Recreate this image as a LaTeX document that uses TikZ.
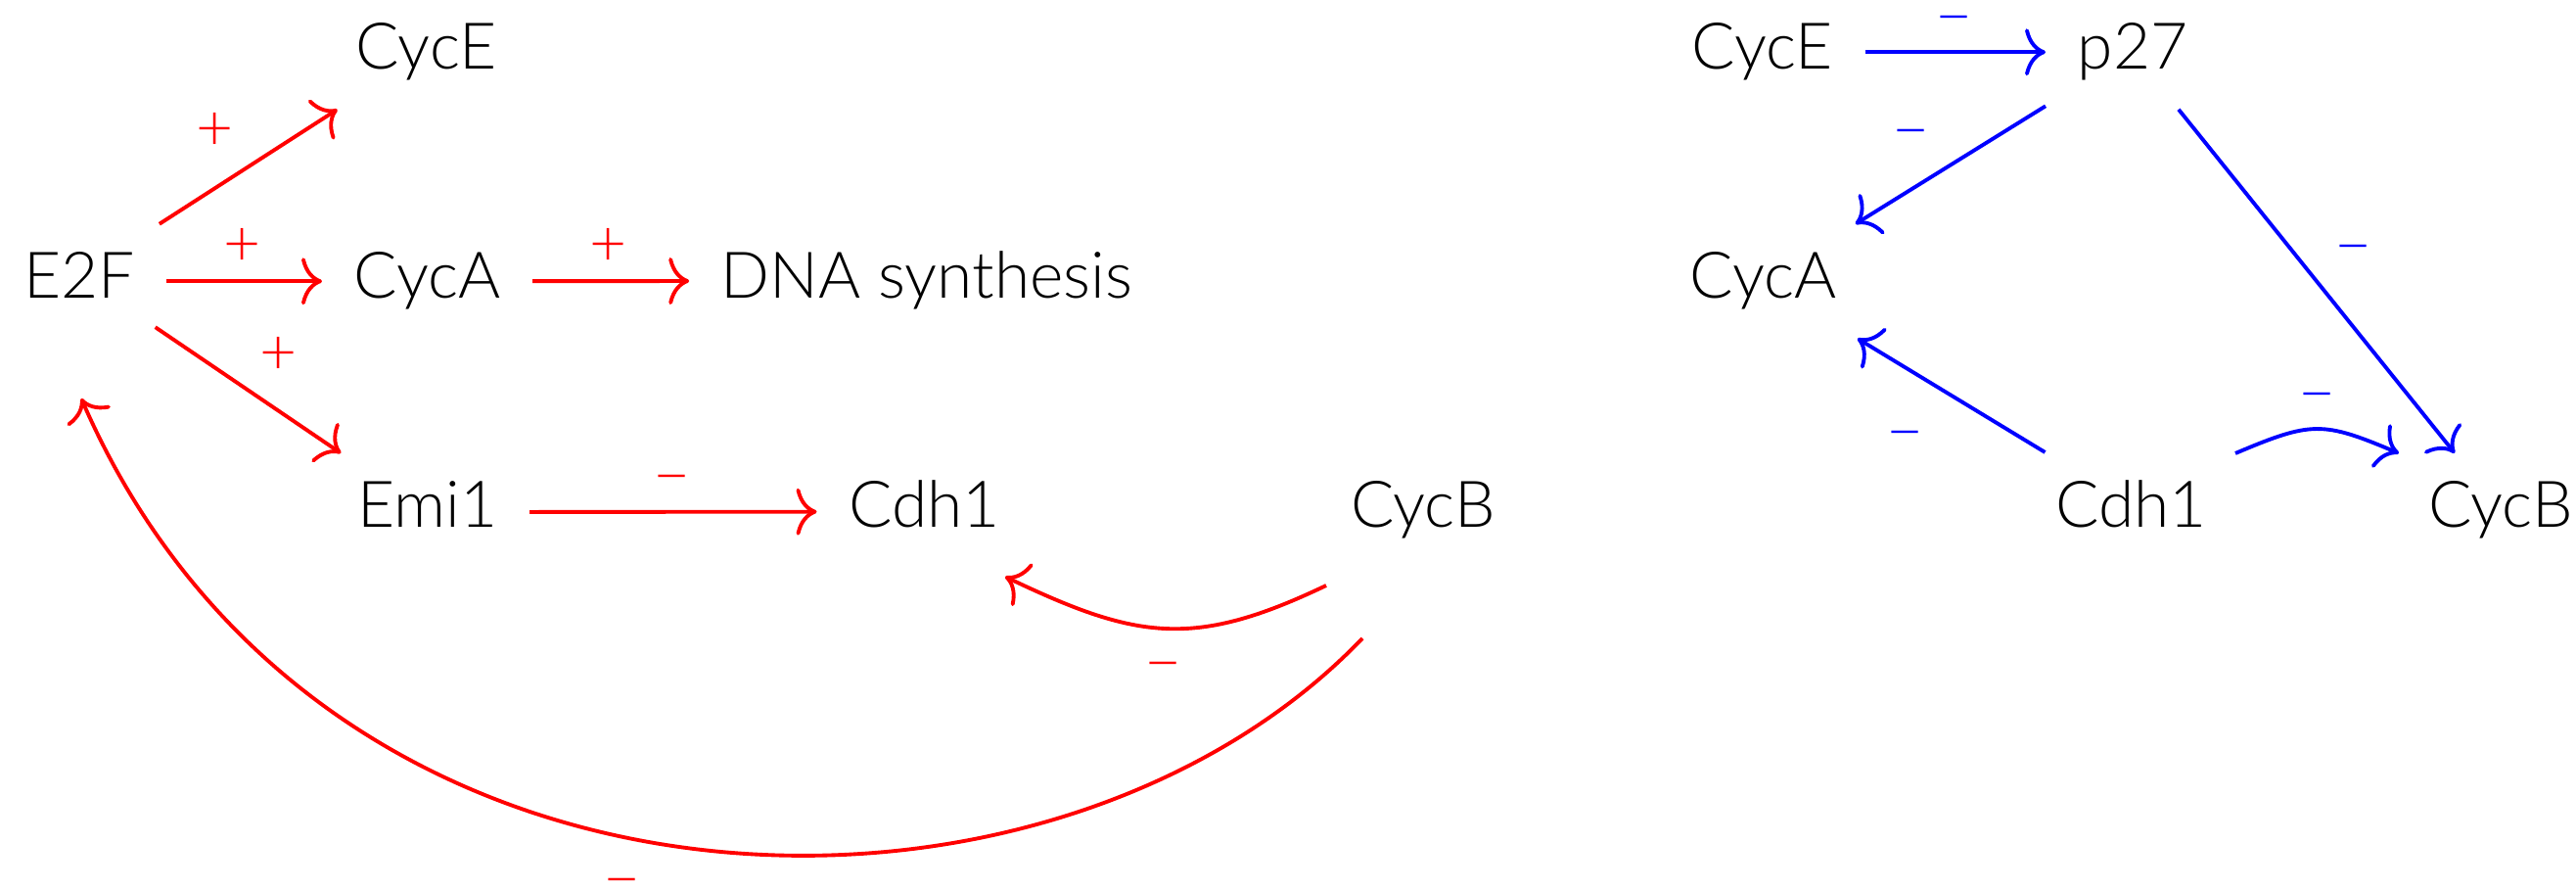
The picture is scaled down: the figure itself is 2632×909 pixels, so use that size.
\documentclass[tikz,border=0pt]{standalone}
\usepackage{fontspec}
\setmainfont{Lato}[UprightFont=* Light]
\usetikzlibrary{arrows.meta}
\begin{document}
\begin{tikzpicture}[x=0.01cm,y=0.01cm,
  every node/.style={font=\fontsize{18.7}{22}\selectfont},
  gene/.style={inner xsep=9.1pt, inner ysep=8.1pt, anchor=base},
  deep/.style={text depth=0.15cm},
  arr/.style={line width=1.1pt, -{Computer Modern Rightarrow[length=2.1mm,width=4.8mm]}},
  act/.style={arr, red},
  inh/.style={arr, blue},
  plus/.style={inner sep=0pt, anchor=center},
  minus/.style={inner sep=0pt, anchor=north}
]
\useasboundingbox (0,0) rectangle (2632,909);
% left network
\node[gene] (CycEL) at (435.5,838) {CycE};
\node[gene] (E2F)   at (81,604)    {E2F};
\node[gene] (CycAL) at (436.5,604) {CycA};
\node[gene] (DNA)   at (947,604)   {DNA synthesis};
\node[gene, deep] (Emi1)  at (437,370)   {Emi1};
\node[gene, deep] (Cdh1L) at (944.5,370) {Cdh1};
\node[gene] (CycBL) at (1454,370)  {CycB};
% right network
\node[gene] (CycER) at (1801,838)   {CycE};
\node[gene] (p27)   at (2179,838)   {p27};
\node[gene] (CycAR) at (1801.5,604) {CycA};
\node[gene] (Cdh1R) at (2177.5,370) {Cdh1};
\node[gene] (CycBR) at (2555,370)   {CycB};

% left connectors
\draw[act] (E2F) -- (CycEL);
\draw[act] (E2F.east |- CycAL.west) -- (CycAL.west);
\draw[act] (CycAL) -- (DNA);
\draw[act] (E2F) -- (Emi1);
\draw[act] (Emi1) -- (Cdh1L);
\draw[act] ([shift={(-99,-59)}]CycBL.base) .. controls +(-135,-64.5) and +(135,-64.5) .. ([shift={(82.5,-50)}]Cdh1L.base);
\draw[act] ([shift={(-62,-113)}]CycBL.base) .. controls +(-317.4,-331.2) and +(248,-568.5) .. ([shift={(2,-102)}]E2F.base);

% right connectors
\draw[inh] (CycER) -- (p27);
\draw[inh] (p27) -- (CycAR);
\draw[inh] (p27) -- (CycBR);
\draw[inh] (Cdh1R) -- (CycAR);
\draw[inh] ([shift={(106.5,76)}]Cdh1R.base) .. controls +(78,33) and +(-78,33) .. ([shift={(-104,76)}]CycBR.base);

% left labels
\node[plus, red] (s1) at (220,775) {+};
\node[plus, red] (s2) at (248,657) {+};
\node[plus, red] (s3) at (622,657) {+};
\node[plus, red] (s4) at (285,546) {+};
\node[minus, red] (s5) at (687,424) {−};
\node[minus, red] (s6) at (1189,233) {−};
\node[minus, red] (s7) at (635.5,12.5) {−};
% right labels
\node[minus, blue] (t1) at (1997,893) {−};
\node[minus, blue] (t2) at (1953,777) {−};
\node[minus, blue] (t3) at (2405,659) {−};
\node[minus, blue] (t4) at (1947,469) {−};
\node[minus, blue] (t5) at (2368,508) {−};
\end{tikzpicture}
\end{document}
